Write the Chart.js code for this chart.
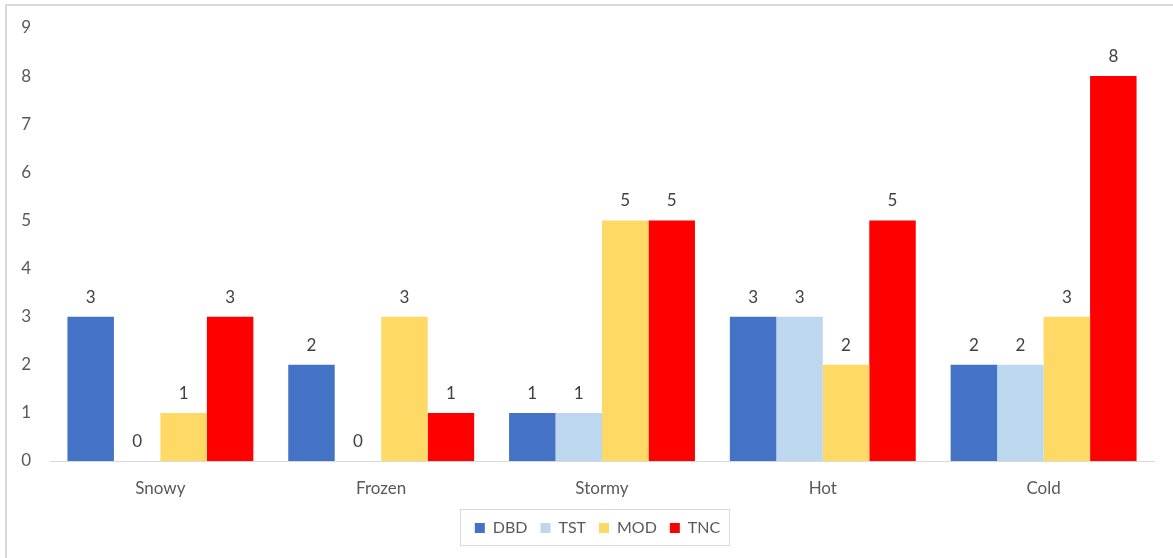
<!DOCTYPE html>
<html>
<head>
<meta charset="utf-8">
<script src="https://cdn.jsdelivr.net/npm/chart.js@4/dist/chart.umd.min.js"></script>
<style>
  html, body { margin: 0; padding: 0; background: #fff; overflow: hidden; }
  #frame {
    position: absolute; left: 5px; top: 4px; width: 1200px; height: 600px;
    border-left: 2px solid #d9d9d9; border-top: 2px solid #d9d9d9;
  }
  #wrap { position: absolute; left: 7px; top: 6px; width: 1172px; height: 552px; }
</style>
</head>
<body>
<div id="frame"></div>
<div id="wrap"><canvas id="c"></canvas></div>
<script>
const categories = ['Snowy', 'Frozen', 'Stormy', 'Hot', 'Cold'];
const dbd = [3, 2, 1, 3, 2];
const tst = [0, 0, 1, 3, 2];
const mod = [1, 3, 5, 2, 3];
const tnc = [3, 1, 5, 5, 8];
const yTicks = [0, 1, 2, 3, 4, 5, 6, 7, 8, 9];

const FONT = 'Lato, "Open Sans", sans-serif';
const TEXT = '#595959';
const SIZE = 17;
const LEGEND_SHIFT = 17;

// Value labels above each bar
const valueLabels = {
  id: 'valueLabels',
  afterDatasetsDraw(chart) {
    const ctx = chart.ctx;
    ctx.save();
    ctx.font = SIZE + 'px ' + FONT;
    ctx.fillStyle = '#404040';
    ctx.textAlign = 'center';
    ctx.textBaseline = 'alphabetic';
    chart.data.datasets.forEach((ds, i) => {
      chart.getDatasetMeta(i).data.forEach((bar, j) => {
        ctx.fillText(String(ds.data[j]), bar.x, bar.y - 14);
      });
    });
    ctx.restore();
  }
};

// Centre the legend under the plot area and draw a thin frame round it
const legendFrame = {
  id: 'legendFrame',
  afterLayout(chart) {
    chart.legend.left += LEGEND_SHIFT;
    chart.legend.right += LEGEND_SHIFT;
  },
  afterDraw(chart) {
    const boxes = chart.legend.legendHitBoxes;
    if (!boxes || !boxes.length) return;
    const l = Math.min(...boxes.map(b => b.left));
    const r = Math.max(...boxes.map(b => b.left + b.width));
    const t = Math.min(...boxes.map(b => b.top));
    const bt = Math.max(...boxes.map(b => b.top + b.height));
    const ctx = chart.ctx;
    ctx.save();
    ctx.strokeStyle = '#d9d9d9';
    ctx.lineWidth = 1;
    const x0 = Math.round(l - 15), x1 = Math.round(r + 9);
    const y0 = Math.round(t - 11), y1 = Math.round(bt + 9);
    ctx.strokeRect(x0 + 0.5, y0 + 0.5, x1 - x0, y1 - y0);
    ctx.restore();
  }
};

new Chart(document.getElementById('c'), {
  type: 'bar',
  data: {
    labels: categories,
    datasets: [
      { label: 'DBD', data: dbd, backgroundColor: '#4472C4' },
      { label: 'TST', data: tst, backgroundColor: '#BDD7EE' },
      { label: 'MOD', data: mod, backgroundColor: '#FFD966' },
      { label: 'TNC', data: tnc, backgroundColor: '#FF0000' }
    ]
  },
  options: {
    responsive: true,
    maintainAspectRatio: false,
    animation: false,
    datasets: { bar: { categoryPercentage: 0.842, barPercentage: 1.0 } },
    layout: { padding: { left: 0, right: 25, top: 22, bottom: 12 } },
    scales: {
      x: {
        grid: { display: false, drawTicks: false },
        border: { display: true, color: '#d9d9d9', width: 1 },
        ticks: { color: TEXT, font: { family: FONT, size: SIZE }, padding: 17 },
        afterFit(s) { s.height = 46; }
      },
      y: {
        min: 0, max: 9,
        afterBuildTicks(s) { s.ticks = yTicks.map(v => ({ value: v })); },
        grid: { display: false, drawTicks: false },
        border: { display: false },
        ticks: { color: TEXT, font: { family: FONT, size: SIZE }, padding: 19 },
        afterFit(s) { s.width = 43; s.paddingTop = 0; s.paddingBottom = 0; }
      }
    },
    plugins: {
      legend: {
        position: 'bottom',
        labels: {
          color: TEXT,
          font: { family: FONT, size: 16 },
          boxWidth: 10, boxHeight: 10,
          padding: 13
        }
      },
      tooltip: { enabled: false }
    }
  },
  plugins: [valueLabels, legendFrame]
});
</script>
</body>
</html>
